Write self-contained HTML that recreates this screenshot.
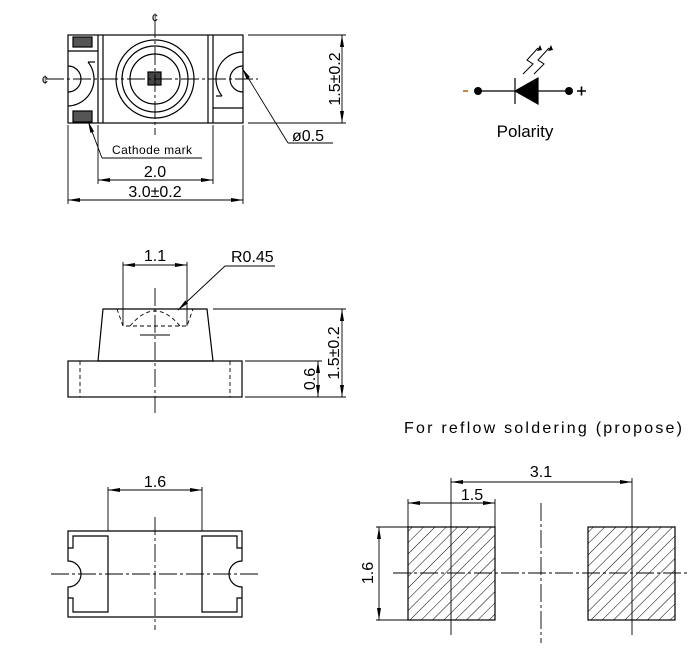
<!DOCTYPE html>
<html><head><meta charset="utf-8"><style>
html,body{margin:0;padding:0;background:#fff;}
svg{display:block;}
text{font-family:"Liberation Sans",sans-serif;fill:#000;}
</style></head><body>
<svg width="698" height="651" viewBox="0 0 698 651" xmlns="http://www.w3.org/2000/svg">
<defs>
<pattern id="h" patternUnits="userSpaceOnUse" width="8" height="8" patternTransform="rotate(45)">
<line x1="0" y1="0" x2="0" y2="8" stroke="#000" stroke-width="1"/>
</pattern>
<marker id="a" markerWidth="12" markerHeight="6" refX="12" refY="3" orient="auto" markerUnits="userSpaceOnUse">
<path d="M0,1 L12,3 L0,5 z" fill="#000"/>
</marker>
<marker id="as" markerWidth="12" markerHeight="6" refX="0" refY="3" orient="auto" markerUnits="userSpaceOnUse">
<path d="M12,1 L0,3 L12,5 z" fill="#000"/>
</marker>
</defs>
<g fill="none" stroke="#000" stroke-width="1.2">
<!-- TOP VIEW -->
<rect x="68" y="35" width="175" height="88"/>
<line x1="98" y1="35" x2="98" y2="123"/><line x1="103" y1="35" x2="103" y2="123"/>
<line x1="208" y1="35" x2="208" y2="123"/><line x1="213" y1="35" x2="213" y2="123"/>
<circle cx="155" cy="79" r="39"/><circle cx="155" cy="79" r="33"/><circle cx="155" cy="79" r="25"/>
<rect x="148" y="72" width="13" height="13" fill="#444"/>
<rect x="73" y="37" width="19" height="10" fill="#555"/>
<rect x="73" y="111" width="19" height="11" fill="#555"/>
<line x1="68" y1="51" x2="98" y2="51"/>
<path d="M68 66 A13 13 0 0 1 68 92"/>
<path d="M88 62 A27 27 0 0 1 68 106"/>
<line x1="88" y1="62" x2="95" y2="62"/>
<line x1="213" y1="108" x2="243" y2="108"/>
<path d="M243 66 A13 13 0 0 0 243 92"/>
<path d="M243 52 A27 27 0 0 0 222 96"/>
<line x1="222" y1="96" x2="216" y2="96"/>
<g stroke-width="0.9" stroke-dasharray="18,3,3,3">
<line x1="46" y1="79" x2="258" y2="79"/>
<line x1="155" y1="20" x2="155" y2="135"/>
</g>
<g stroke-width="0.9">
<line x1="248" y1="35" x2="346" y2="35"/><line x1="248" y1="123" x2="346" y2="123"/>
<line x1="342" y1="35" x2="342" y2="123" marker-start="url(#as)" marker-end="url(#a)"/>
<line x1="333" y1="143" x2="288" y2="143"/><line x1="288" y1="143" x2="242" y2="68" marker-end="url(#a)"/>
<line x1="202" y1="158" x2="102" y2="158"/><line x1="102" y1="158" x2="88" y2="121" marker-end="url(#a)"/>
<line x1="98" y1="125" x2="98" y2="184"/><line x1="213" y1="125" x2="213" y2="184"/>
<line x1="98" y1="180" x2="213" y2="180" marker-start="url(#as)" marker-end="url(#a)"/>
<line x1="68" y1="125" x2="68" y2="204"/><line x1="243" y1="125" x2="243" y2="204"/>
<line x1="68" y1="200" x2="243" y2="200" marker-start="url(#as)" marker-end="url(#a)"/>
</g>
<!-- SIDE VIEW -->
<path d="M103 309 L207 309 L213 361 L98 361 Z"/>
<rect x="68" y="361" width="174" height="36"/>
<g stroke-width="0.9" stroke-dasharray="4,3">
<line x1="80" y1="361" x2="80" y2="397"/><line x1="230" y1="361" x2="230" y2="397"/>
<path d="M117 309 L123 326 L187 326 L193 309"/>
<path d="M130 326 Q155 296 180 326"/>
</g>
<line x1="140" y1="335" x2="170" y2="335" stroke-width="0.9"/>
<line x1="155" y1="288" x2="155" y2="413" stroke-width="0.9" stroke-dasharray="18,3,3,3"/>
<g stroke-width="0.9">
<line x1="123" y1="262" x2="123" y2="326"/><line x1="187" y1="262" x2="187" y2="326"/>
<line x1="123" y1="265" x2="187" y2="265" marker-start="url(#as)" marker-end="url(#a)"/>
<line x1="275" y1="266" x2="225" y2="266"/><line x1="225" y1="266" x2="178" y2="310" marker-end="url(#a)"/>
<line x1="213" y1="309" x2="346" y2="309"/><line x1="245" y1="397" x2="346" y2="397"/><line x1="245" y1="361" x2="322" y2="361"/>
<line x1="342" y1="309" x2="342" y2="397" marker-start="url(#as)" marker-end="url(#a)"/>
<line x1="318" y1="361" x2="318" y2="397" marker-start="url(#as)" marker-end="url(#a)"/>
</g>
<!-- BOTTOM VIEW -->
<path d="M68 531 L242 531 L242 561 A13 13 0 0 0 242 587 L242 617 L68 617 L68 587 A13 13 0 0 0 68 561 Z"/>
<path d="M68 548 L73 548 L73 536 L108 536 L108 612 L73 612 L73 598 L68 598"/>
<path d="M242 548 L237 548 L237 536 L202 536 L202 612 L237 612 L237 598 L242 598"/>
<g stroke-width="0.9" stroke-dasharray="18,3,3,3">
<line x1="51" y1="574" x2="258" y2="574"/>
<line x1="155" y1="517" x2="155" y2="630"/>
</g>
<g stroke-width="0.9">
<line x1="108" y1="487" x2="108" y2="531"/><line x1="202" y1="487" x2="202" y2="531"/>
<line x1="108" y1="490" x2="202" y2="490" marker-start="url(#as)" marker-end="url(#a)"/>
</g>
<!-- PADS -->
<rect x="408" y="527" width="87" height="93" fill="url(#h)"/>
<rect x="588" y="527" width="87" height="93" fill="url(#h)"/>
<g stroke-width="0.9" stroke-dasharray="18,3,3,3">
<line x1="393" y1="573" x2="690" y2="573"/>
<line x1="541" y1="503" x2="541" y2="643"/>
</g>
<g stroke-width="0.9">
<line x1="451" y1="478" x2="451" y2="635"/><line x1="632" y1="478" x2="632" y2="635"/>
<line x1="451" y1="482" x2="632" y2="482" marker-start="url(#as)" marker-end="url(#a)"/>
<line x1="408" y1="499" x2="408" y2="527"/><line x1="495" y1="499" x2="495" y2="527"/>
<line x1="408" y1="503" x2="495" y2="503" marker-start="url(#as)" marker-end="url(#a)"/>
<line x1="376" y1="527" x2="408" y2="527"/><line x1="376" y1="620" x2="408" y2="620"/>
<line x1="379" y1="527" x2="379" y2="620" marker-start="url(#as)" marker-end="url(#a)"/>
</g>
<!-- POLARITY -->
<line x1="478" y1="91" x2="569" y2="91"/>
<line x1="515" y1="78" x2="515" y2="104"/>
<path d="M515 91 L538 78 L538 104 Z" fill="#000"/>
<path d="M523 74 L533 64 L527 60 L538 48" stroke-width="1"/>
<path d="M534 74 L544 64 L538 60 L549 48" stroke-width="1"/>
</g>
<path d="M540 45 L537 51 L542 50 Z M551 45 L548 51 L553 50 Z" fill="#000"/>
<circle cx="478" cy="91" r="4" fill="#000"/><circle cx="569" cy="91" r="4" fill="#000"/>
<line x1="463" y1="91" x2="468" y2="91" stroke="#c60" stroke-width="1.6"/>
<path d="M577 91 H586 M581.5 86.5 V95.5" stroke="#000" stroke-width="1.6"/>
<text x="525" y="137" font-size="17" text-anchor="middle">Polarity</text>
<!-- TEXTS -->
<text x="155" y="22" font-size="12" text-anchor="middle">¢</text>
<text x="45" y="84" font-size="12" text-anchor="middle">¢</text>
<text x="334" y="79" font-size="16" text-anchor="middle" transform="rotate(-90 334 79)" dy="6">1.5±0.2</text>
<text x="292" y="141" font-size="16">ø0.5</text>
<text x="112" y="154" font-size="12" textLength="80">Cathode mark</text>
<text x="155" y="177" font-size="16" text-anchor="middle">2.0</text>
<text x="155" y="197" font-size="16" text-anchor="middle">3.0±0.2</text>
<text x="155" y="261" font-size="16" text-anchor="middle">1.1</text>
<text x="231" y="262" font-size="16">R0.45</text>
<text x="333" y="353" font-size="16" text-anchor="middle" transform="rotate(-90 333 353)" dy="6">1.5±0.2</text>
<text x="309" y="379" font-size="16" text-anchor="middle" transform="rotate(-90 309 379)" dy="6">0.6</text>
<text x="155" y="487" font-size="16" text-anchor="middle">1.6</text>
<text x="404" y="433" font-size="16" textLength="278">For reflow soldering (propose)</text>
<text x="541" y="477" font-size="16" text-anchor="middle">3.1</text>
<text x="472" y="500" font-size="16" text-anchor="middle">1.5</text>
<text x="367" y="573" font-size="16" text-anchor="middle" transform="rotate(-90 367 573)" dy="6">1.6</text>
</svg>
</body></html>
